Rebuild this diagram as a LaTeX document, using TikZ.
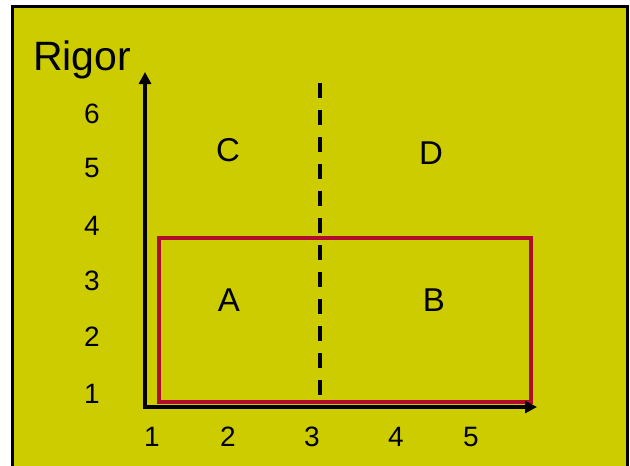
\documentclass[tikz,border=0pt]{standalone}
\usepackage{fontspec}
\setmainfont{Liberation Sans}
\usetikzlibrary{arrows.meta}
\definecolor{bgyellow}{RGB}{204,204,0}
\definecolor{boxred}{RGB}{178,12,44}
\tikzset{
  frame/.style={draw=black, line width=3pt, fill=bgyellow},
  axis/.style={draw=black, line width=3.5pt, -{Triangle[length=12pt,width=12pt]}},
  redbox/.style={draw=boxred, line width=3.5pt},
  divider/.style={draw=black, line width=3.5pt, dash pattern=on 15pt off 12pt},
  tick/.style={font=\fontsize{28}{30}\selectfont, inner sep=0pt},
  region/.style={font=\fontsize{33}{35}\selectfont, inner sep=0pt},
  title/.style={font=\fontsize{41}{44}\selectfont, inner sep=0pt},
}
\begin{document}
\begin{tikzpicture}[x=1pt,y=-1pt]
\useasboundingbox (0,0) rectangle (630,466);
\fill[white] (0,0) rectangle (630,466);
\path[frame] (12,6) rectangle (627,480);
% coordinates
\coordinate (o) at (145,407);
\coordinate (ytop) at (145,72);
\coordinate (xo) at (143,407);
\coordinate (xend) at (537,407);
\coordinate (dtop) at (320,83);
\coordinate (dbot) at (320,398);
% red rectangle
\draw[redbox] (159,238) rectangle (531,402);
% axes
\draw[axis] (o) -- (ytop);
\draw[axis] (xo) -- (xend);
% dashed divider
\draw[divider] (dtop) -- (dbot);
% title
\node[title, anchor=base west] (rigor) at (33,70) {Rigor};
% y ticks
\node[tick] (y6) at (92,114) {6};
\node[tick] (y5) at (92,168) {5};
\node[tick] (y4) at (92,226) {4};
\node[tick] (y3) at (92,281) {3};
\node[tick] (y2) at (92,337) {2};
\node[tick] (y1) at (92,394) {1};
% x ticks
\node[tick] (x1) at (152,437) {1};
\node[tick] (x2) at (228,437) {2};
\node[tick] (x3) at (312,437) {3};
\node[tick] (x4) at (396,437) {4};
\node[tick] (x5) at (471,437) {5};
% regions
\node[region] (C) at (228,150) {C};
\node[region] (D) at (431,153) {D};
\node[region] (A) at (229,300) {A};
\node[region] (B) at (434,300) {B};
\end{tikzpicture}
\end{document}
